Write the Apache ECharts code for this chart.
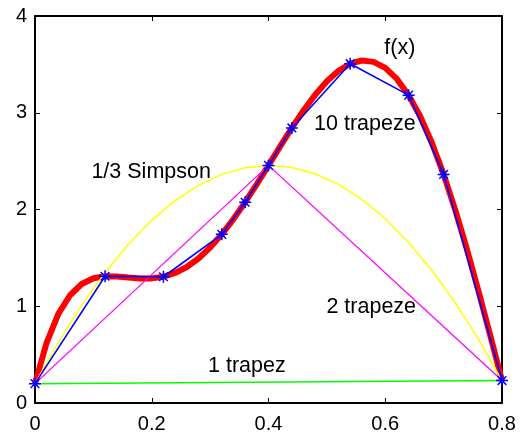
<!DOCTYPE html>
<html>
<head>
<meta charset="utf-8">
<script src="https://cdn.jsdelivr.net/npm/echarts@6/dist/echarts.min.js"></script>
<style>
  html, body { margin: 0; padding: 0; background: #fff; }
  #chart { width: 524px; height: 434px; }
</style>
</head>
<body>
<div id="chart"></div>
<script>
// f(x) sampled every 0.02
var fxX = [0, 0.02, 0.04, 0.06, 0.08, 0.10, 0.12, 0.14, 0.16, 0.18, 0.20,
           0.22, 0.24, 0.26, 0.28, 0.30, 0.32, 0.34, 0.36, 0.38, 0.40,
           0.42, 0.44, 0.46, 0.48, 0.50, 0.52, 0.54, 0.56, 0.58, 0.60,
           0.62, 0.64, 0.66, 0.68, 0.70, 0.72, 0.74, 0.76, 0.78, 0.80];
var fxY = [0.200, 0.625, 0.921, 1.114, 1.230, 1.289, 1.310, 1.308, 1.297, 1.287, 1.288,
           1.305, 1.344, 1.406, 1.494, 1.607, 1.743, 1.901, 2.075, 2.262, 2.456,
           2.652, 2.843, 3.023, 3.186, 3.325, 3.434, 3.507, 3.540, 3.526, 3.464,
           3.350, 3.182, 2.961, 2.687, 2.363, 1.994, 1.587, 1.150, 0.694, 0.232];

// 1/3 Simpson parabola
var simpX = [0, 0.04, 0.08, 0.12, 0.16, 0.20, 0.24, 0.28, 0.32, 0.36, 0.40,
             0.44, 0.48, 0.52, 0.56, 0.60, 0.64, 0.68, 0.72, 0.76, 0.80];
var simpY = [0.200, 0.627, 1.010, 1.347, 1.640, 1.888, 2.091, 2.250, 2.363, 2.432, 2.456,
             2.435, 2.370, 2.259, 2.104, 1.904, 1.659, 1.370, 1.035, 0.656, 0.232];

// 2 trapeze
var trap2X = [0, 0.4, 0.8];
var trap2Y = [0.200, 2.456, 0.232];

// 1 trapez
var trap1X = [0, 0.8];
var trap1Y = [0.200, 0.232];

// 10 trapeze (nodes marked with *)
var trap10X = [0, 0.12, 0.22, 0.32, 0.36, 0.40, 0.44, 0.54, 0.64, 0.70, 0.80];
var trap10Y = [0.200, 1.310, 1.305, 1.743, 2.075, 2.456, 2.843, 3.507, 3.182, 2.363, 0.232];

// text labels in the plot
var noteText = ['f(x)', '10 trapeze', '1/3 Simpson', '2 trapeze', '1 trapez'];
var noteX = [0.625, 0.565, 0.199, 0.576, 0.363];
var noteY = [3.67, 2.88, 2.39, 0.99, 0.38];

var xTicks = [0, 0.2, 0.4, 0.6, 0.8];
var yTicks = [0, 1, 2, 3, 4];

function pairs(xs, ys) {
  return xs.map(function (x, i) { return [x, ys[i]]; });
}

var FONT = '"Liberation Sans", Arial, sans-serif';
var asterisk = 'path://M0,-5L0,5M-5,0L5,0M-3.6,-3.6L3.6,3.6M-3.6,3.6L3.6,-3.6';

var myChart = echarts.init(document.getElementById('chart'));

function frameAxis(pos, isX, showLabel) {
  return {
    type: 'value',
    position: pos,
    min: isX ? xTicks[0] : yTicks[0],
    max: isX ? xTicks[xTicks.length - 1] : yTicks[yTicks.length - 1],
    interval: isX ? 0.2 : 1,
    axisLine: { show: true, onZero: false, lineStyle: { color: '#000', width: 2 } },
    axisTick: { show: true, inside: true, length: 5, lineStyle: { color: '#000', width: 1 } },
    axisLabel: {
      show: showLabel,
      color: '#000',
      fontFamily: FONT,
      fontSize: 20,
      margin: isX ? 11 : 8
    },
    splitLine: { show: false }
  };
}

var option = {
  animation: false,
  backgroundColor: '#fff',
  grid: { left: 35, right: 22, top: 16, bottom: 31, containLabel: false },
  xAxis: [frameAxis('bottom', true, true), frameAxis('top', true, false)],
  yAxis: [frameAxis('left', false, true), frameAxis('right', false, false)],
  series: [
    {
      name: 'f(x)',
      type: 'line',
      data: pairs(fxX, fxY),
      showSymbol: false,
      lineStyle: { color: '#ff0000', width: 6 },
      z: 1
    },
    {
      name: '1/3 Simpson',
      type: 'line',
      data: pairs(simpX, simpY),
      showSymbol: false,
      lineStyle: { color: '#ffff00', width: 1.5 },
      z: 2
    },
    {
      name: '2 trapeze',
      type: 'line',
      data: pairs(trap2X, trap2Y),
      showSymbol: false,
      lineStyle: { color: '#ff00ff', width: 1.3 },
      z: 2
    },
    {
      name: '1 trapez',
      type: 'line',
      data: pairs(trap1X, trap1Y),
      showSymbol: false,
      lineStyle: { color: '#00ff00', width: 1.5 },
      z: 2
    },
    {
      name: '10 trapeze',
      type: 'line',
      data: pairs(trap10X, trap10Y),
      symbol: asterisk,
      symbolSize: 12,
      showAllSymbol: true,
      itemStyle: { color: 'rgba(0,0,0,0)', borderColor: '#0000ff', borderWidth: 1.5 },
      lineStyle: { color: '#0000ff', width: 1.6 },
      z: 3
    },
    {
      name: 'notes',
      type: 'scatter',
      symbolSize: 1,
      itemStyle: { color: 'rgba(0,0,0,0)', opacity: 1 },
      data: noteText.map(function (t, i) { return { name: t, value: [noteX[i], noteY[i]] }; }),
      label: {
        show: true,
        position: 'inside',
        formatter: '{b}',
        color: '#000',
        textBorderWidth: 0,
        fontFamily: FONT,
        fontSize: 21.5
      },
      silent: true,
      z: 4
    }
  ]
};

myChart.setOption(option);
</script>
</body>
</html>
